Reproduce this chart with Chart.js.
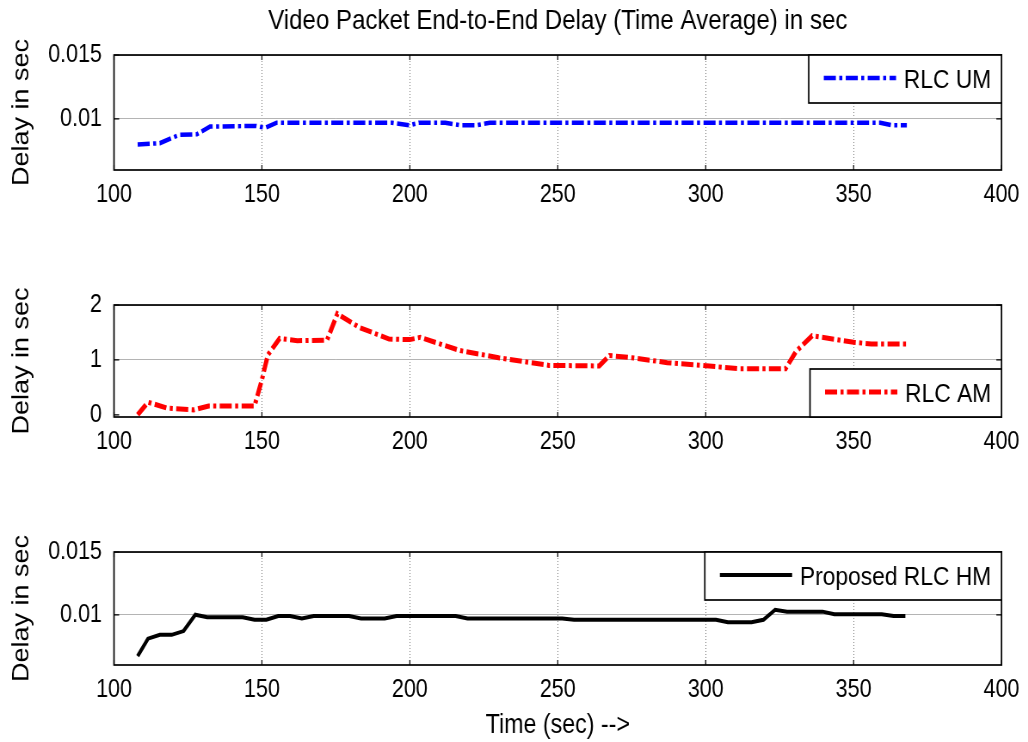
<!DOCTYPE html>
<html lang="en">
<head>
    <meta charset="UTF-8">
    <title>Video Packet End-to-End Delay</title>
    <style>
        body { margin: 0; background: #fff; }
        #page { position: relative; width: 1028px; height: 742px; overflow: hidden; }
        /* the original figure is a little squeezed sideways, so draw wide and squeeze */
        canvas { position: absolute; left: 0; transform: scaleX(0.8603); transform-origin: 0 0; }
    </style>
</head>
<body>
<div id="page">
    <canvas id="umChart" width="1195" height="250" style="top:0px"></canvas>
    <canvas id="amChart" width="1195" height="245" style="top:250px"></canvas>
    <canvas id="hmChart" width="1195" height="247" style="top:495px"></canvas>
</div>

<script src="https://cdn.jsdelivr.net/npm/chart.js@4.4.1/dist/chart.umd.min.js"></script>
<script>
    // RLC UM (blue)
    const umTime  = [108, 115.5, 122, 128, 132.5, 148, 151, 155, 194, 200, 203, 212, 217, 222.5, 227, 359, 363, 368];
    const umDelay = [0.0080, 0.0081, 0.00875, 0.0088, 0.0094, 0.00945, 0.0093, 0.0097, 0.0097, 0.0095, 0.0097, 0.0097, 0.0095, 0.0095, 0.0097, 0.0097, 0.0095, 0.0095];

    // RLC AM (red)
    const amTime  = [108, 111.5, 118, 127, 132, 147.5, 150, 152, 156, 162, 172, 175.5, 183, 193, 200, 203.5, 217, 230, 247, 264, 267.5, 275, 287, 299, 311, 327, 330.5, 336, 350, 356, 368];
    const amDelay = [0, 0.23, 0.12, 0.09, 0.16, 0.16, 0.64, 1.09, 1.39, 1.35, 1.36, 1.84, 1.59, 1.38, 1.37, 1.41, 1.17, 1.04, 0.9, 0.89, 1.08, 1.04, 0.95, 0.9, 0.84, 0.84, 1.15, 1.44, 1.32, 1.29, 1.29];

    // Proposed RLC HM (black)
    const hmTime  = [108, 111.5, 115.5, 119.5, 123.5, 127.5, 131.5, 143.5, 147.5, 151.5, 155.5, 159.5, 163.5, 167.5, 179.5, 183.5, 191.5, 195.5, 215.5, 219.5, 251.5, 255.5, 303.5, 307.5, 315.5, 319.5, 323.5, 327.5, 339.5, 343.5, 359.5, 363.5, 367.5];
    const hmDelay = [0.0067, 0.0081, 0.0084, 0.0084, 0.0087, 0.0100, 0.0098, 0.0098, 0.0096, 0.0096, 0.0099, 0.0099, 0.0097, 0.0099, 0.0099, 0.0097, 0.0097, 0.0099, 0.0099, 0.0097, 0.0097, 0.0096, 0.0096, 0.0094, 0.0094, 0.0096, 0.0104, 0.01025, 0.01025, 0.01005, 0.01005, 0.0099, 0.0099];

    const smallTicks = [0.01, 0.015];
    const amTicks = [0, 1, 2];

    const font = "'Liberation Sans', Arial, sans-serif";
    Chart.defaults.color = '#000';

    const toPoints = (xs, ys) => xs.map((x, i) => ({ x: x, y: ys[i] }));

    // black box round the plot with small inward tick marks
    const frame = {
        id: 'frame',
        afterDatasetsDraw(chart) {
            const { ctx, chartArea: a, scales } = chart;
            ctx.save();
            ctx.strokeStyle = '#000';
            ctx.lineWidth = 1.2;
            ctx.beginPath();
            scales.x.ticks.forEach(t => {
                const px = scales.x.getPixelForValue(t.value);
                ctx.moveTo(px, a.top); ctx.lineTo(px, a.top + 5);
                ctx.moveTo(px, a.bottom); ctx.lineTo(px, a.bottom - 5);
            });
            scales.y.ticks.forEach(t => {
                const py = scales.y.getPixelForValue(t.value);
                ctx.moveTo(a.left, py); ctx.lineTo(a.left + 6, py);
                ctx.moveTo(a.right, py); ctx.lineTo(a.right - 6, py);
            });
            ctx.stroke();
            ctx.lineWidth = 1.7;
            ctx.strokeRect(a.left, a.top, a.width, a.height);
            ctx.restore();
        }
    };

    // matlab style legend box in a corner of the plot
    const boxLegend = {
        id: 'boxLegend',
        afterDraw(chart, args, opts) {
            const { ctx, chartArea: a } = chart;
            const ds = chart.data.datasets[0];
            ctx.save();
            ctx.font = opts.size + 'px ' + font;
            const tw = ctx.measureText(ds.label).width;
            const w = 17.5 + 84 + 9 + tw + 12, h = 48;
            const x = a.right - w;
            const y = opts.corner === 'top' ? a.top : a.bottom - h;
            ctx.fillStyle = '#fff';
            ctx.fillRect(x, y, w, h);
            ctx.strokeStyle = '#000';
            ctx.lineWidth = 1.7;
            ctx.strokeRect(x, y, w, h);
            ctx.beginPath();
            ctx.setLineDash(ds.borderDash || []);
            ctx.strokeStyle = ds.borderColor;
            ctx.lineWidth = ds.borderWidth;
            ctx.moveTo(x + 17.5, y + h / 2 - 1);
            ctx.lineTo(x + 101.5, y + h / 2 - 1);
            ctx.stroke();
            ctx.setLineDash([]);
            ctx.fillStyle = '#000';
            ctx.textBaseline = 'middle';
            ctx.fillText(ds.label, x + 110.5, y + h / 2 + 2);
            ctx.restore();
        }
    };

    function makeChart(id, cfg) {
        return new Chart(document.getElementById(id), {
            type: 'line',
            data: {
                datasets: [{
                    label: cfg.label,
                    data: toPoints(cfg.xs, cfg.ys),
                    borderColor: cfg.color,
                    borderWidth: cfg.width,
                    borderDash: cfg.dash,
                    pointRadius: 0,
                    tension: 0,
                    fill: false
                }]
            },
            options: {
                responsive: false,
                animation: false,
                layout: { padding: { top: cfg.padTop, right: 30.2, bottom: 0, left: 0 } },
                plugins: {
                    legend: { display: false },
                    tooltip: { enabled: false },
                    title: {
                        display: !!cfg.title,
                        text: cfg.title || '',
                        fullSize: false,
                        font: { family: font, size: 28, weight: 'normal', lineHeight: 1 },
                        padding: { top: 7, bottom: 20 }
                    },
                    boxLegend: { corner: cfg.corner, size: 26.5 }
                },
                scales: {
                    x: {
                        type: 'linear',
                        min: 100, max: 400,
                        afterFit: s => { s.height = cfg.xHeight; },
                        ticks: { stepSize: 50, padding: 10, maxRotation: 0, font: { family: font, size: 25 } },
                        grid: { color: '#7a7a7a', lineWidth: 1, drawTicks: false },
                        border: { display: false, dash: [1, 2] },
                        title: {
                            display: !!cfg.xTitle,
                            text: cfg.xTitle || '',
                            font: { family: font, size: 27, lineHeight: 1.2 },
                            padding: { top: 0, bottom: 0 }
                        }
                    },
                    y: {
                        min: cfg.yMin, max: cfg.yMax,
                        afterFit: s => { s.width = 132.5; },
                        afterBuildTicks: s => { s.ticks = cfg.yTicks.map(v => ({ value: v })); },
                        ticks: { padding: 14, font: { family: font, size: 25 }, callback: v => String(v) },
                        grid: {
                            color: c => (c.tick && c.tick.value === 0) ? 'rgba(0,0,0,0)' : '#b4b4b4',
                            lineWidth: 1, drawTicks: false
                        },
                        border: { display: false },
                        title: {
                            display: true,
                            text: 'Delay in sec',
                            font: { family: font, size: 27, lineHeight: 1 },
                            padding: { top: 12, bottom: 0 }
                        }
                    }
                }
            },
            plugins: [frame, boxLegend]
        });
    }

    makeChart('umChart', {
        label: 'RLC UM', xs: umTime, ys: umDelay, color: '#0000ff', width: 4.5, dash: [14, 4, 3.5, 4],
        yMin: 0.006, yMax: 0.015, yTicks: smallTicks, padTop: 0, xHeight: 80,
        title: 'Video Packet End-to-End Delay (Time Average) in sec', corner: 'top'
    });

    makeChart('amChart', {
        label: 'RLC AM', xs: amTime, ys: amDelay, color: '#ff0000', width: 5, dash: [14, 4, 3.5, 4],
        yMin: -0.04, yMax: 2, yTicks: amTicks, padTop: 55, xHeight: 78, corner: 'bottom'
    });

    makeChart('hmChart', {
        label: 'Proposed RLC HM', xs: hmTime, ys: hmDelay, color: '#000000', width: 4, dash: [],
        yMin: 0.006, yMax: 0.015, yTicks: smallTicks, padTop: 57, xHeight: 77,
        xTitle: 'Time (sec) -->', corner: 'top'
    });
</script>
</body>
</html>
